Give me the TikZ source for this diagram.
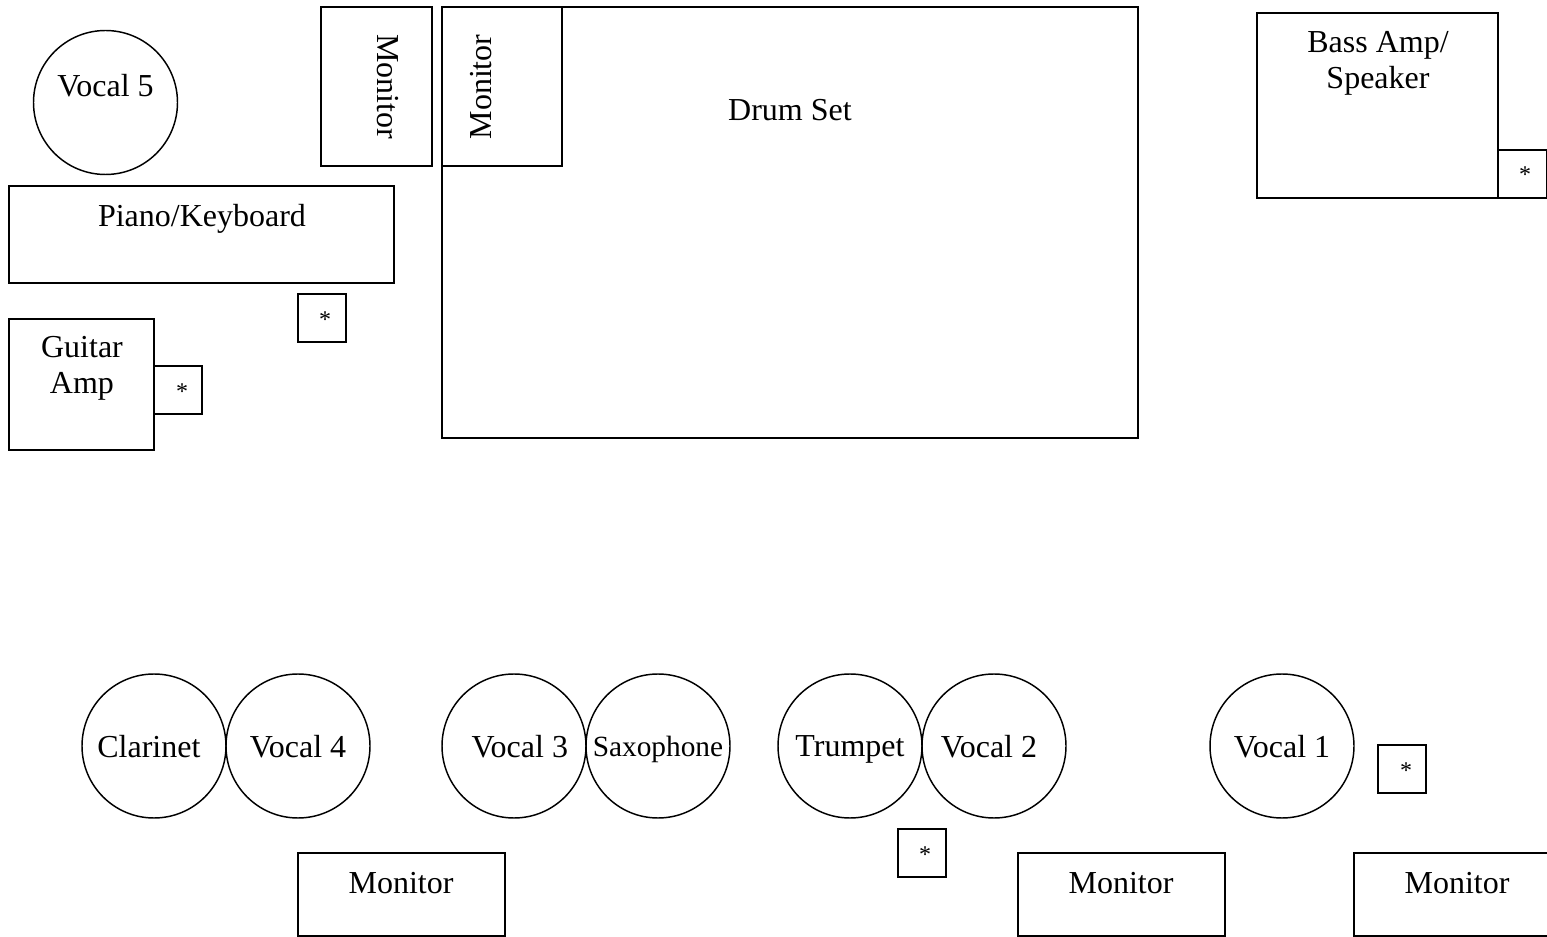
\documentclass[tikz,border=0pt]{standalone}
\usepackage{fontspec}
\setmainfont{Liberation Serif}
\begin{document}
\begin{tikzpicture}[x=0.375pt,y=-0.375pt,
    every node/.style={inner sep=0pt,font=\fontsize{12}{13.5}\selectfont},
    spot/.style={circle,draw,line width=0.55pt,minimum size=54pt,text depth=0pt},
    box/.style={draw,line width=0.75pt},
    star/.style={font=\fontsize{9}{10}\selectfont}]

  \useasboundingbox (0,0) rectangle (1547,937);

  % back line
  \draw[box] (321,7) rectangle (432,166);
  \draw[box] (442,7) rectangle (1138,438);
  \draw[box] (442,7) rectangle (562,166);
  \draw[box] (9,186) rectangle (394,283);
  \draw[box] (298,294) rectangle (346,342);
  \draw[box] (9,319) rectangle (154,450);
  \draw[box] (154,366) rectangle (202,414);
  \draw[box] (1257,13) rectangle (1498,198);
  \draw[box] (1498,150) rectangle (1547,198);

  \node[rotate=-90] (monL)  at (388,87)  {Monitor};
  \node[rotate=90]  (monR)  at (481,87)  {Monitor};
  \node (drums)             at (790,110) {Drum Set};
  \node (piano)             at (202,219) {Piano/Keyboard};
  \node[align=center] (gamp) at (82,368) {Guitar\\Amp};
  \node[align=center] (bamp) at (1378,63) {Bass Amp/\\Speaker};
  \node[star] (s1) at (325,320)  {*};
  \node[star] (s2) at (182,392)  {*};
  \node[star] (s3) at (1525,175) {*};

  % front line
  \begin{scope}[every node/.append style={spot}]
    \node[label={[yshift=6.4pt]center:Vocal 5}] (vocal5) at (105.5,102.5) {};
    \node[label={[xshift=-1.9pt]center:Clarinet}] (clarinet) at (154,746) {};
    \node (vocal4) at (298,746) {Vocal 4};
    \node[label={[xshift=2.2pt]center:Vocal 3}] (vocal3) at (514,746) {};
    \node[font=\fontsize{11}{13}\selectfont] (sax) at (658,746) {Saxophone};
    \node (trumpet) at (850,746) {Trumpet};
    \node[label={[xshift=-1.9pt]center:Vocal 2}] (vocal2) at (994,746) {};
    \node (vocal1) at (1282,746) {Vocal 1};
  \end{scope}

  \draw[box] (1378,745) rectangle (1426,793);
  \draw[box] (898,829) rectangle (946,877);
  \draw[box] (298,853) rectangle (505,936);
  \draw[box] (1018,853) rectangle (1225,936);
  \draw[box] (1354,853) rectangle (1550,936);

  \node[star] (s4) at (1406,771) {*};
  \node[star] (s5) at (925,855)  {*};
  \node (mon1) at (401,883)  {Monitor};
  \node (mon2) at (1121,883) {Monitor};
  \node (mon3) at (1457,883) {Monitor};

\end{tikzpicture}
\end{document}
